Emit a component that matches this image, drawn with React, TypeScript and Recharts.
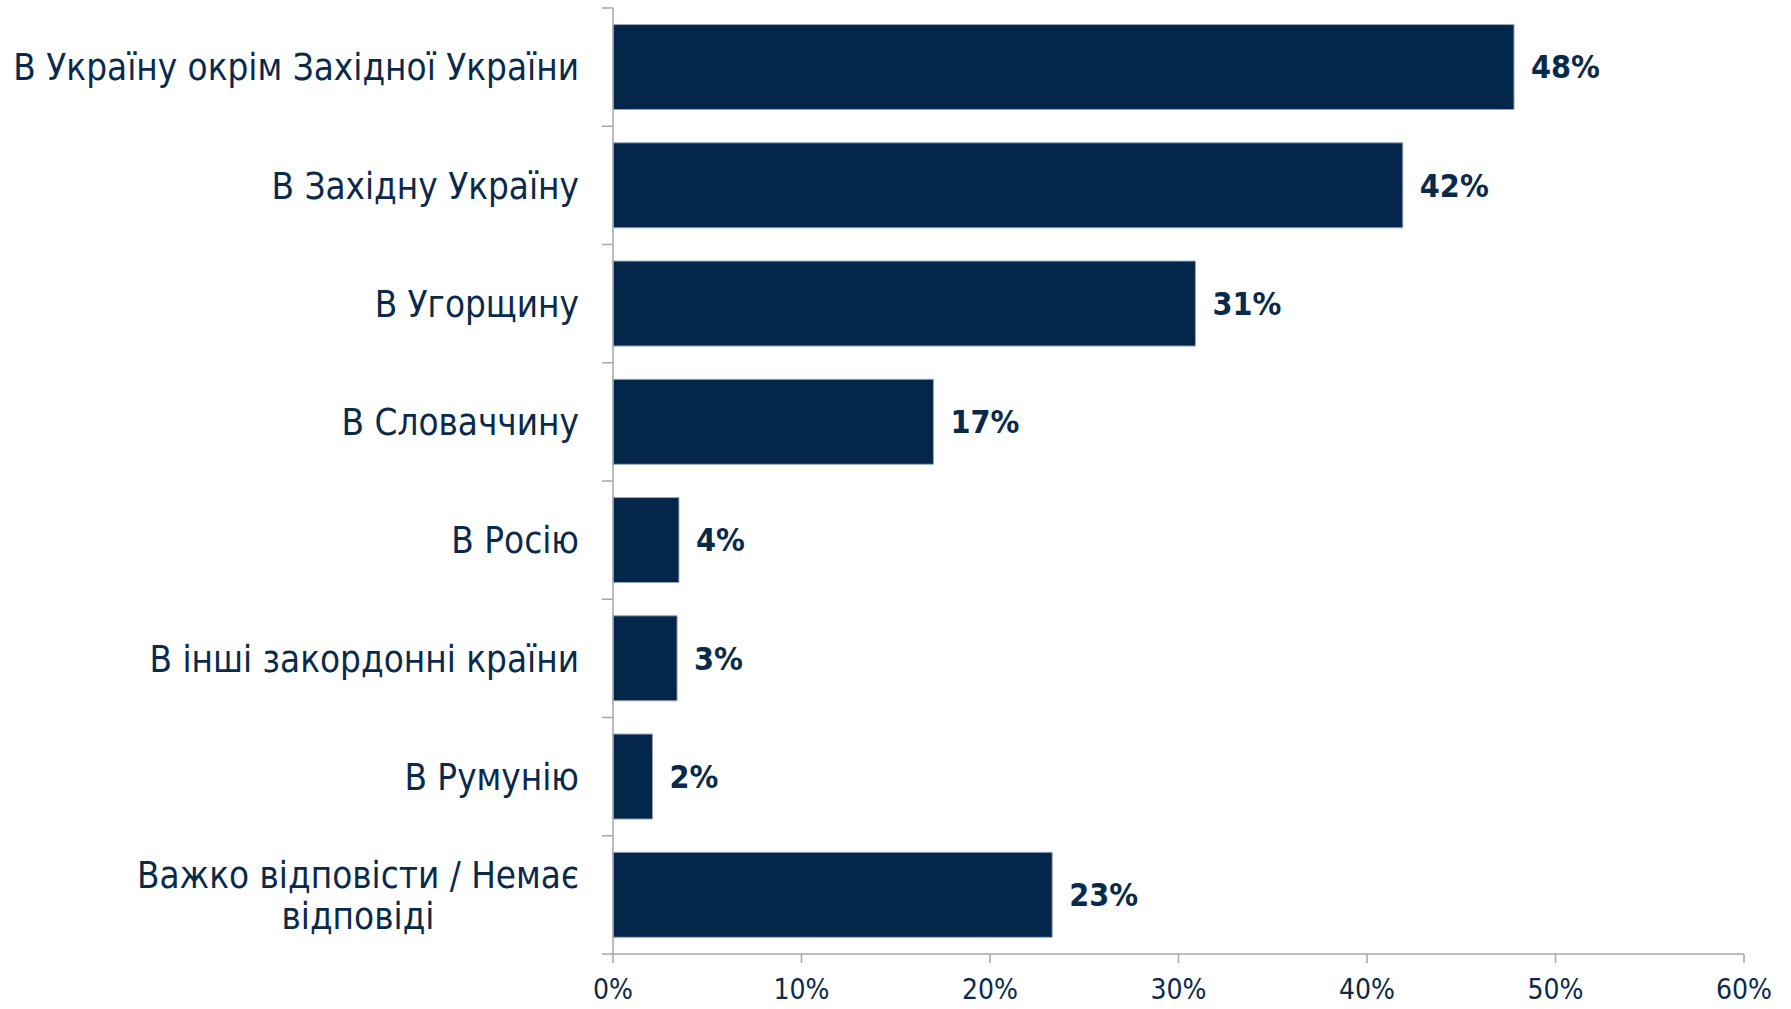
import React from 'react';
import { BarChart, Bar, XAxis, YAxis, LabelList } from 'recharts';

const categories = [
  'В Україну окрім Західної України',
  'В Західну Україну',
  'В Угорщину',
  'В Словаччину',
  'В Росію',
  'В інші закордонні країни',
  'В Румунію',
  'Важко відповісти / Немає\nвідповіді',
];
const values = [47.8, 41.9, 30.9, 17.0, 3.5, 3.4, 2.1, 23.3];
const valueLabels = ['48%', '42%', '31%', '17%', '4%', '3%', '2%', '23%'];
const xTicks = [0, 10, 20, 30, 40, 50, 60];

const data = categories.map((name, i) => ({ name, value: values[i], label: valueLabels[i] }));

const NAVY = '#03264A';
const TEXT = '#0A2A4C';
const GRAY = '#A3A8AE';
const CAT_FONT = "'DejaVu Sans Condensed', 'Liberation Sans Narrow', 'DejaVu Sans', sans-serif";
const CAT_SIZE = 36.5;
const TICK_FONT = "'Liberation Sans Narrow', 'DejaVu Sans Condensed', sans-serif";
const TICK_SIZE_Y = 11;
const TICK_MARGIN_Y = 23;

let ctx: CanvasRenderingContext2D | null = null;
function measure(text: string, font: string): number {
  if (!ctx) ctx = document.createElement('canvas').getContext('2d');
  if (!ctx) return text.length * 16;
  ctx.font = font;
  return ctx.measureText(text).width;
}

const CategoryTick = (props: any) => {
  const { x, y, payload, index, visibleTicksCount } = props;
  const half = payload && typeof payload.offset === 'number' && payload.offset > 0 ? payload.offset : 59;
  const axisX = x + TICK_MARGIN_Y + TICK_SIZE_Y;
  const lines: string[] = String(payload.value).split('\n');
  const lineH = 41;
  const maxW = Math.max(...lines.map((l) => measure(l, `${CAT_SIZE}px ${CAT_FONT}`)));
  const isLast = index === (visibleTicksCount ?? categories.length) - 1;
  return (
    <g>
      <line x1={axisX - TICK_SIZE_Y} x2={axisX} y1={y - half} y2={y - half} stroke={GRAY} strokeWidth={1.5} />
      {isLast && (
        <line x1={axisX - TICK_SIZE_Y} x2={axisX} y1={y + half} y2={y + half} stroke={GRAY} strokeWidth={1.5} />
      )}
      {lines.map((l, i) => (
        <text
          key={i}
          x={lines.length > 1 ? x - maxW / 2 : x}
          y={y + (i - (lines.length - 1) / 2) * lineH + CAT_SIZE * 0.36}
          textAnchor={lines.length > 1 ? 'middle' : 'end'}
          fill={TEXT}
          fontFamily={CAT_FONT}
          fontSize={CAT_SIZE}
        >
          {l}
        </text>
      ))}
    </g>
  );
};

export default function App() {
  return (
    <div style={{ position: 'absolute', left: 0, top: 0, width: 1791, height: 1009, background: '#fff' }}>
      <BarChart
        width={1791}
        height={1009}
        data={data}
        layout="vertical"
        margin={{ top: 8, right: 47, bottom: 0, left: 0 }}
        barCategoryGap="14%"
      >
        <XAxis
          type="number"
          domain={[0, 60]}
          ticks={xTicks}
          interval={0}
          height={55}
          tickFormatter={(v: number) => `${v}%`}
          axisLine={{ stroke: GRAY, strokeWidth: 1.5 }}
          tickLine={{ stroke: GRAY, strokeWidth: 1.5 }}
          tickSize={9}
          tickMargin={16}
          tick={{ fill: TEXT, fontSize: 28, fontFamily: TICK_FONT }}
        />
        <YAxis
          type="category"
          dataKey="name"
          width={613}
          interval={0}
          axisLine={{ stroke: GRAY, strokeWidth: 1.5 }}
          tickLine={false}
          tickSize={TICK_SIZE_Y}
          tickMargin={TICK_MARGIN_Y}
          tick={<CategoryTick />}
        />
        <Bar dataKey="value" fill={NAVY} stroke="#9AA8B6" strokeWidth={1} isAnimationActive={false}>
          <LabelList
            dataKey="label"
            position="right"
            offset={17}
            fill={TEXT}
            style={{ fontWeight: 700, fontSize: 32, fontFamily: CAT_FONT }}
          />
        </Bar>
      </BarChart>
    </div>
  );
}
